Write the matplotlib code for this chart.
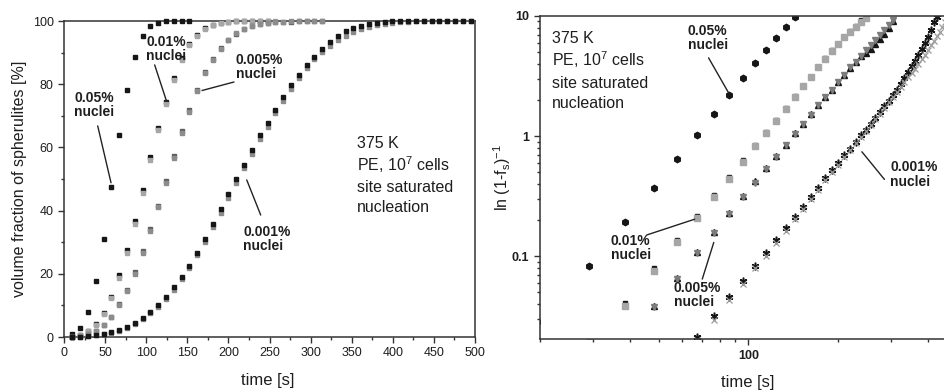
import numpy as np
import matplotlib
matplotlib.use('Agg')
import matplotlib.pyplot as plt
from matplotlib.ticker import MultipleLocator, NullFormatter, FixedLocator

plt.rcParams['font.family'] = ['Liberation Sans', 'DejaVu Sans']
plt.rcParams['mathtext.fontset'] = 'custom'
plt.rcParams['mathtext.rm'] = 'Liberation Sans'
plt.rcParams['mathtext.it'] = 'Liberation Sans:italic'
plt.rcParams['mathtext.bf'] = 'Liberation Sans:bold'

# simulation time steps [s]
time = [10.1, 19.6, 29.1, 38.6, 48.1, 57.6, 67.1, 76.6, 86.1, 95.6,
        105.1, 114.6, 124.1, 133.6, 143.1, 152.6, 162.1, 171.6, 181.1, 190.6,
        200.1, 209.6, 219.1, 228.6, 238.1, 247.6, 257.1, 266.6, 276.1, 285.6,
        295.1, 304.6, 314.1, 323.6, 333.1, 342.6, 352.1, 361.6, 371.1, 380.6,
        390.1, 399.6, 409.1, 418.6, 428.1, 437.6, 447.1, 456.6, 466.1, 475.6,
        485.1, 494.6]

# volume fraction of spherulites [%] per nuclei density (runs a = dark, b = grey)
f_005 = [0.8, 2.8, 8.0, 17.6, 31.0, 47.6, 63.8, 78.3, 88.7, 95.2, 98.26, 99.46,
         99.854, 99.971, 99.994, 100]
f_001_a = [0.1, 0.6, 1.9, 4.0, 7.6, 12.8, 19.5, 27.6, 36.6, 46.6, 57.0, 66.2,
           74.3, 82.0, 88.2, 92.8, 95.6, 97.7, 98.82, 99.43, 99.72, 99.88,
           99.945, 99.975, 99.99, 100]
f_001_b = [0.1, 0.6, 1.9, 3.8, 7.3, 12.2, 18.7, 26.7, 35.7, 45.7, 56.1, 65.4,
           73.6, 81.4, 87.8, 92.5, 95.4, 97.6, 98.77, 99.40, 99.70, 99.87,
           99.94, 99.971, 99.986, 99.993, 100]
f_0005_a = [0.05, 0.3, 1.0, 1.8, 3.8, 6.4, 10.3, 14.8, 20.5, 27.2, 34.2, 41.6,
            49.3, 57.2, 65.2, 71.8, 78.3, 83.8, 88.0, 91.3, 94.0, 96.0, 97.5,
            98.35, 99.0, 99.29, 99.53, 99.71, 99.84, 99.92, 99.966, 99.988, 100]
f_0005_b = [0.05, 0.3, 1.0, 1.8, 3.7, 6.2, 10.0, 14.4, 20.0, 26.7, 33.6, 41.0,
            48.7, 56.6, 64.7, 71.3, 77.9, 83.5, 87.8, 91.2, 94.0, 96.1, 97.6,
            98.45, 99.07, 99.46, 99.68, 99.82, 99.90, 99.95, 99.978, 99.991, 100]
f_0001_a = [0.05, 0.15, 0.35, 0.6, 1.0, 1.5, 2.1, 3.15, 4.44, 6.05, 7.97, 10.1,
            12.7, 15.7, 19.1, 22.6, 26.7, 31.1, 35.9, 40.4, 45.1, 50.0, 54.5,
            59.1, 63.9, 67.7, 71.9, 75.8, 79.6, 83.0, 86.1, 88.7, 91.2, 93.3,
            95.2, 96.7, 97.8, 98.5, 99.13, 99.51, 99.73, 99.88, 99.95, 99.986,
            99.994, 100, 100, 100, 100, 100, 100, 100]
f_0001_b = [0.05, 0.15, 0.3, 0.55, 0.9, 1.4, 2.0, 2.9, 4.2, 5.7, 7.6, 9.6,
            12.1, 15.0, 18.3, 21.8, 25.8, 30.0, 34.8, 39.3, 43.9, 48.8, 53.4,
            58.0, 62.7, 66.6, 70.8, 74.7, 78.4, 81.9, 85.2, 88.0, 90.3, 92.2,
            93.9, 95.4, 96.5, 97.4, 98.13, 98.71, 99.13, 99.45, 99.67, 99.80,
            99.89, 99.94, 99.97, 99.986, 100, 100, 100, 100]

labels = ['0.05%\nnuclei', '0.01%\nnuclei', '0.005%\nnuclei', '0.001%\nnuclei']
info = ['375 K', 'PE, 10$^\\mathregular{7}$ cells', 'site saturated', 'nucleation']

BLACK = '#161616'
DARK = '#5e5e5e'
GREY = '#8c8c8c'
LIGHT = '#a6a6a6'
TXT = '#1e1e1e'

fig = plt.figure(figsize=(9.45, 3.9), dpi=100)
ax1 = fig.add_axes([64 / 945, 53 / 390, 411 / 945, 316 / 390])
ax2 = fig.add_axes([540 / 945, 51 / 390, 405 / 945, 323 / 390])

t = np.array(time)

# ---- left: linear volume fraction
def squares(ax, f, color, ms=3.2):
    ax.plot(t[:len(f)], f, ls='none', marker='s', ms=ms, color=color,
            mec=color, clip_on=False, zorder=3)

squares(ax1, f_005, BLACK)
squares(ax1, f_001_a, BLACK)
squares(ax1, f_001_b, LIGHT)
squares(ax1, f_0005_a, DARK)
squares(ax1, f_0005_b, GREY)
squares(ax1, f_0001_b, GREY)
squares(ax1, f_0001_a, BLACK)

ax1.set_xlim(0, 500)
ax1.set_ylim(0, 100)
ax1.xaxis.set_major_locator(MultipleLocator(50))
ax1.xaxis.set_minor_locator(MultipleLocator(25))
ax1.yaxis.set_major_locator(MultipleLocator(20))
ax1.yaxis.set_minor_locator(MultipleLocator(10))
ax1.tick_params(which='both', direction='out', width=1, colors='#333',
                labelsize=9, labelcolor=TXT)
ax1.tick_params(which='major', length=4)
ax1.tick_params(which='minor', length=2.5)
for s in ax1.spines.values():
    s.set_linewidth(1.1)
    s.set_color('#333')
ax1.set_xlabel('time [s]', fontsize=12, color=TXT)
ax1.xaxis.set_label_coords(0.496, -0.115)
ax1.set_ylabel('volume fraction of spherulites [%]', fontsize=11.5, color=TXT)
ax1.yaxis.set_label_coords(-0.09, 0.5)

lab_kw = dict(fontsize=10, fontweight='bold', color=TXT, ha='left', va='top',
              linespacing=1.05)
line_kw = dict(arrowstyle='-', color='#222', lw=1, shrinkA=0, shrinkB=0)

ax1.text(12.2, 78.0, labels[0], **lab_kw)
ax1.annotate('', xy=(57.2, 48.8), xytext=(41, 66.8), arrowprops=line_kw)
ax1.text(99.8, 95.7, labels[1], **lab_kw)
ax1.annotate('', xy=(124.9, 74.5), xytext=(110.3, 86.1), arrowprops=line_kw)
ax1.text(209.2, 90.0, labels[2], **lab_kw)
ax1.annotate('', xy=(167.9, 78.0), xytext=(206.8, 80.7), arrowprops=line_kw)
ax1.text(217.8, 35.6, labels[3], **lab_kw)
ax1.annotate('', xy=(239.3, 38.6), xytext=(222.3, 49.7), arrowprops=line_kw)

for txt, yb in zip(info, [0.598, 0.525, 0.459, 0.396]):
    ax1.text(0.713, yb, txt, transform=ax1.transAxes, fontsize=11.5,
             color=TXT, va='baseline', ha='left')

# ---- right: ln(1-f)^-1 on log-log axes
def logpts(ax, f, **kw):
    f = np.array(f)
    keep = f < 100
    L = -np.log1p(-f[keep] / 100)
    ax.plot(t[:len(f)][keep], L, ls='none', **kw)

logpts(ax2, f_005, marker='h', ms=4.6, color=BLACK, mec=BLACK)
logpts(ax2, f_001_a, marker='s', ms=3, color=BLACK, mec=BLACK)
logpts(ax2, f_001_b, marker='s', ms=4, color=LIGHT, mec=LIGHT)
logpts(ax2, f_0005_a, marker='^', ms=4.2, color=BLACK, mec=BLACK)
logpts(ax2, f_0005_b, marker='v', ms=4.8, color='#7c7c7c', mec='#7c7c7c')
logpts(ax2, f_0001_a, marker=(6, 2, 0), ms=5.5, color=BLACK, mec=BLACK, mew=1.1)
logpts(ax2, f_0001_b, marker='x', ms=4.2, color='#9a9a9a', mec='#9a9a9a', mew=0.9)

ax2.set_xscale('log')
ax2.set_yscale('log')
ax2.set_xlim(20, 456)
ax2.set_ylim(0.0204, 10)
ax2.xaxis.set_major_locator(FixedLocator([100]))
ax2.set_xticklabels(['100'])
ax2.xaxis.set_minor_locator(FixedLocator([20, 30, 40, 50, 60, 70, 80, 90,
                                          200, 300, 400]))
ax2.xaxis.set_minor_formatter(NullFormatter())
ax2.yaxis.set_major_locator(FixedLocator([0.1, 1, 10]))
ax2.set_yticklabels(['0.1', '1', '10'])
ax2.yaxis.set_minor_locator(FixedLocator([0.03, 0.04, 0.05, 0.06, 0.07, 0.08,
                                          0.09, 0.2, 0.3, 0.4, 0.5, 0.6, 0.7,
                                          0.8, 0.9, 2, 3, 4, 5, 6, 7, 8, 9]))
ax2.yaxis.set_minor_formatter(NullFormatter())
ax2.tick_params(which='both', direction='out', width=1, colors='#333',
                labelsize=9, labelcolor=TXT)
ax2.tick_params(which='major', length=4.5)
ax2.tick_params(which='minor', length=2.5)
for lbl in ax2.get_xticklabels() + ax2.get_yticklabels():
    lbl.set_fontweight('bold')
for s in ax2.spines.values():
    s.set_linewidth(1.1)
    s.set_color('#333')
ax2.spines['right'].set_visible(False)
ax2.set_xlabel('time [s]', fontsize=12, color=TXT)
ax2.xaxis.set_label_coords(0.514, -0.11)
ax2.set_ylabel('ln (1-f$_\\mathregular{s}$)$^\\mathregular{-1}$', fontsize=11.5,
               color=TXT)
ax2.yaxis.set_label_coords(-0.067, 0.5)

ax2.text(62.5, 8.6, labels[0], **lab_kw)
ax2.annotate('', xy=(85.7, 2.30), xytext=(73.5, 4.48), arrowprops=line_kw)
ax2.text(34.6, 0.153, labels[1], **lab_kw)
ax2.annotate('', xy=(66.0, 0.203), xytext=(45.6, 0.150), arrowprops=line_kw)
ax2.text(56.2, 0.0625, labels[2], **lab_kw)
ax2.annotate('', xy=(76.5, 0.130), xytext=(70.0, 0.0644), arrowprops=line_kw)
ax2.text(298.6, 0.63, labels[3], **lab_kw)
ax2.annotate('', xy=(240, 0.74), xytext=(285.7, 0.4355), arrowprops=line_kw)

for txt, yb in zip(info, [0.916, 0.845, 0.777, 0.715]):
    ax2.text(0.0296, yb, txt, transform=ax2.transAxes, fontsize=11.5,
             color=TXT, va='baseline', ha='left')

fig.savefig('out.png', dpi=100)
